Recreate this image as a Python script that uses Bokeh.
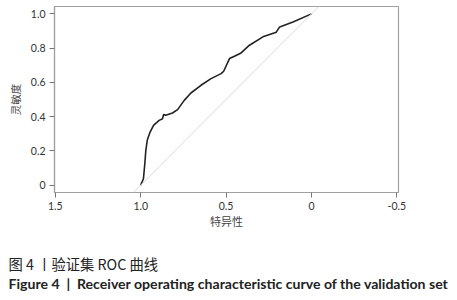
from bokeh.plotting import figure
from bokeh.models import Range1d, FixedTicker, Slope
from bokeh.layouts import column
from bokeh.core.properties import value
from bokeh.embed import file_html
from bokeh.resources import INLINE

# ROC curve (specificity axis reversed: from 1 to 0)
specificity = [1.0, 0.984, 0.976, 0.970, 0.961, 0.945, 0.925, 0.892, 0.872, 0.866,
               0.853, 0.814, 0.784, 0.745, 0.706, 0.647, 0.588, 0.529, 0.514, 0.480,
               0.451, 0.412, 0.363, 0.284, 0.206, 0.186, 0.108, 0.0]
sensitivity = [0.0, 0.037, 0.125, 0.203, 0.265, 0.310, 0.349, 0.378, 0.388, 0.413,
               0.408, 0.421, 0.441, 0.495, 0.538, 0.583, 0.622, 0.651, 0.665, 0.739,
               0.753, 0.772, 0.817, 0.866, 0.893, 0.924, 0.953, 1.0]

x_ticks = [1.5, 1.0, 0.5, 0.0, -0.5]
x_tick_labels = ["1.5", "1.0", "0.5", "0", "-0.5"]
y_ticks = [0.0, 0.2, 0.4, 0.6, 0.8, 1.0]
y_tick_labels = ["0", "0.2", "0.4", "0.6", "0.8", "1.0"]

x_title = "特异性"
y_title = "灵敏度"
caption_cn = "图 4 丨验证集 ROC 曲线"
caption_en = "Figure 4\u00a0\u00a0|\u00a0\u00a0Receiver operating characteristic curve of the validation set"

W = 457
H_MAIN, H_CAP = 235, 65

p = figure(width=W, height=H_MAIN, output_backend="svg", toolbar_location=None,
           x_range=Range1d(1.505, -0.51), y_range=Range1d(-0.043, 1.043),
           min_border_left=54, min_border_right=59, min_border_top=6,
           min_border_bottom=43, background_fill_color="white",
           border_fill_color="white")
p.frame_align = False
p.grid.visible = False
p.outline_line_color = "#a0a0a0"
p.outline_line_width = 1.2

tick_font = "Lato"
for ax in (p.xaxis[0], p.yaxis[0]):
    ax.axis_line_color = "#a0a0a0"
    ax.axis_line_width = 1.2
    ax.major_tick_line_color = "#777777"
    ax.major_tick_out = 5
    ax.major_tick_in = 0
    ax.minor_tick_line_color = None
    ax.major_label_text_font = tick_font
    ax.major_label_text_font_size = "10.5px"
    ax.major_label_text_color = "#333333"
    ax.axis_label_text_font = "Noto Sans CJK SC"
    ax.axis_label_text_font_size = "10.5px"
    ax.axis_label_text_font_style = "normal"
    ax.axis_label_text_color = "#444444"

p.xaxis[0].ticker = FixedTicker(ticks=x_ticks)
p.xaxis[0].major_label_overrides = {t: l for t, l in zip(x_ticks, x_tick_labels)}
p.yaxis[0].ticker = FixedTicker(ticks=y_ticks)
p.yaxis[0].major_label_overrides = {t: l for t, l in zip(y_ticks, y_tick_labels)}
p.xaxis[0].axis_label = x_title
p.yaxis[0].axis_label = y_title
p.xaxis[0].axis_label_text_font_size = "11px"
p.xaxis[0].major_label_standoff = 4
p.yaxis[0].major_label_standoff = 4
p.xaxis[0].axis_label_standoff = 0
p.yaxis[0].axis_label_standoff = 5

# reference diagonal
p.add_layout(Slope(gradient=-1, y_intercept=1, line_color="#d9d9d9", line_width=1))

p.line(specificity, sensitivity, line_color="#222222", line_width=1.6)

# caption panel (pixel-like coordinates, y downward)
c = figure(width=W, height=H_CAP, output_backend="svg", toolbar_location=None,
           x_range=Range1d(0, W), y_range=Range1d(H_CAP, 0),
           x_axis_type=None, y_axis_type=None, min_border=0,
           background_fill_color="white", border_fill_color="white")
c.frame_align = False
c.grid.visible = False
c.outline_line_color = None
c.text(x=[8], y=[28], text=[caption_cn], text_font=value("Noto Sans CJK SC"),
       text_font_size="14.3px", text_color="#222222", text_baseline="middle",
       text_align="left")
c.text(x=[8], y=[48], text=[caption_en], text_font=value("Lato"),
       text_font_size="14.1px", text_font_style="bold", text_color="#222222",
       text_baseline="middle", text_align="left")

layout = column(p, c, spacing=0)
open("out.html", "w").write(file_html(layout, INLINE))
